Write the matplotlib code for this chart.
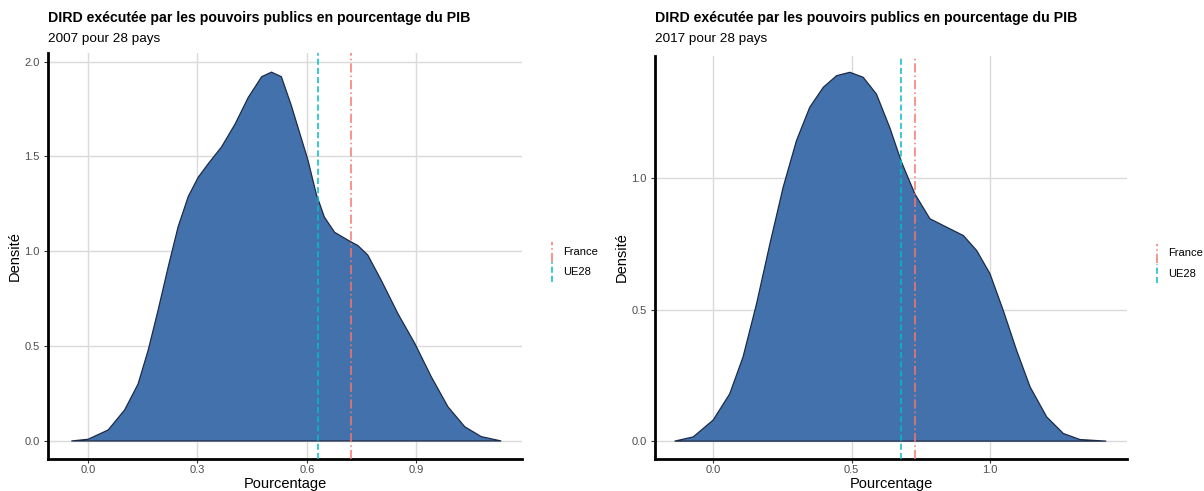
import matplotlib.pyplot as plt
from matplotlib.lines import Line2D

plt.rcParams['font.family'] = ['Liberation Sans', 'DejaVu Sans']

# density curves (x = pourcentage du PIB, y = densite)
dens07_x = [-0.046, 0.0, 0.055, 0.10, 0.137, 0.165, 0.192, 0.22, 0.247, 0.275, 0.302,
            0.329, 0.366, 0.403, 0.439, 0.476, 0.503, 0.53, 0.557, 0.584, 0.603, 0.626,
            0.648, 0.676, 0.713, 0.74, 0.767, 0.804, 0.85, 0.896, 0.941, 0.987, 1.033,
            1.078, 1.133]
dens07_y = [0, 0.009, 0.058, 0.163, 0.30, 0.48, 0.69, 0.92, 1.13, 1.29, 1.39,
            1.46, 1.55, 1.67, 1.81, 1.92, 1.944, 1.92, 1.77, 1.60, 1.48, 1.30,
            1.18, 1.10, 1.058, 1.03, 0.98, 0.847, 0.67, 0.514, 0.339, 0.18, 0.075,
            0.023, 0]

dens17_x = [-0.139, -0.072, 0.0, 0.06, 0.108, 0.157, 0.205, 0.253, 0.301, 0.349, 0.398,
            0.446, 0.494, 0.542, 0.59, 0.639, 0.681, 0.729, 0.783, 0.843, 0.904, 0.952,
            1.0, 1.048, 1.096, 1.145, 1.205, 1.265, 1.325, 1.42]
dens17_y = [0, 0.016, 0.08, 0.18, 0.32, 0.523, 0.75, 0.966, 1.143, 1.27, 1.346,
            1.39, 1.403, 1.384, 1.32, 1.19, 1.06, 0.94, 0.846, 0.814, 0.782, 0.725,
            0.637, 0.497, 0.346, 0.206, 0.092, 0.029, 0.006, 0]

ref_labels = ['France', 'UE28']
ref07 = [0.72, 0.63]
ref17 = [0.73, 0.68]
ref_colors = ['#F8766D', '#00BFC4']
ref_styles = [(0, (6, 2, 1, 2)), (0, (4, 2))]

years = ['2007', '2017']
xticks = [[0.0, 0.3, 0.6, 0.9], [0.0, 0.5, 1.0]]
yticks = [[0.0, 0.5, 1.0, 1.5, 2.0], [0.0, 0.5, 1.0]]
xlims = [(-0.11, 1.19), (-0.21, 1.495)]
ylims = [(-0.095, 2.045), (-0.068, 1.465)]

fig = plt.figure(figsize=(12.04, 4.91), dpi=100)
ax1 = fig.add_axes([48 / 1204, 32 / 491, 474 / 1204, 406 / 491])
ax2 = fig.add_axes([655 / 1204, 32 / 491, 472 / 1204, 403 / 491])

panels = [(ax1, dens07_x, dens07_y, ref07), (ax2, dens17_x, dens17_y, ref17)]
for i, (ax, dx, dy, refs) in enumerate(panels):
    ax.fill(dx, dy, facecolor='#4371AC', edgecolor='#1C2B45', linewidth=0.9, zorder=2)
    for v, c, ls in zip(refs, ref_colors, ref_styles):
        ax.axvline(v, color=c, linestyle=ls, linewidth=1.1, zorder=3)

    ax.set_xlim(xlims[i])
    ax.set_ylim(ylims[i])
    ax.set_xticks(xticks[i])
    ax.set_yticks(yticks[i])
    ax.set_xticklabels(['%.1f' % t for t in xticks[i]])
    ax.set_yticklabels(['%.1f' % t for t in yticks[i]])
    ax.grid(True, color='#DADADA', linewidth=1.0, zorder=0)
    ax.set_axisbelow(True)
    for s in ['top', 'right']:
        ax.spines[s].set_visible(False)
    for s in ['left', 'bottom']:
        ax.spines[s].set_linewidth(2.0)
        ax.spines[s].set_color('black')
    ax.tick_params(length=3, width=0.8, color='#333333', labelsize=8, labelcolor='#4D4D4D', pad=3)
    ax.tick_params(axis='x', pad=1.5)
    ax.set_xlabel('Pourcentage', fontsize=10.5, labelpad=1)
    ax.set_ylabel('Densité', fontsize=10.5, labelpad=2)

    # titles (same height for both panels)
    x0 = ax.get_position().x0
    fig.text(x0, 1 - 18 / 491, 'DIRD exécutée par les pouvoirs publics en pourcentage du PIB',
             fontsize=10.2, fontweight='bold', ha='left', va='center')
    fig.text(x0, 1 - 39 / 491, years[i] + ' pour 28 pays',
             fontsize=9.7, ha='left', va='center')

    # legend with vertical keys
    key_x = 1.0 + 30 / 474
    for k, (lab, c, ls) in enumerate(zip(ref_labels, ref_colors, ref_styles)):
        yc = 0.51 - k * 0.05
        ax.add_line(Line2D([key_x, key_x], [yc - 0.024, yc + 0.024], transform=ax.transAxes,
                           color=c, linestyle=ls, linewidth=1.1, clip_on=False))
        ax.text(key_x + 11 / 474, yc, lab, transform=ax.transAxes, fontsize=8,
                ha='left', va='center')

fig.savefig('out.png', dpi=100)
